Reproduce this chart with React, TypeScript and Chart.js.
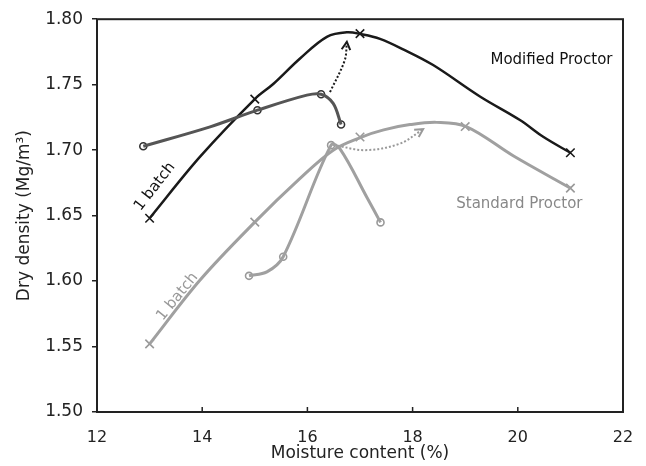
import { useEffect, useRef } from "react";
import { Chart, registerables } from "chart.js";
Chart.register(...registerables);

// Modified Proctor, 1 batch (markers)
const modX = [13.0, 15.0, 17.0, 21.0];
const modY = [1.648, 1.739, 1.789, 1.698];
// Modified Proctor, 1 batch (fitted curve)
const modCurveX = [13.0, 13.96, 15.0, 15.35, 15.86, 16.37, 16.75, 17.03, 17.38, 17.82, 18.39, 19.28, 20.04, 20.49, 21.0];
const modCurveY = [1.648, 1.695, 1.739, 1.7505, 1.770, 1.7865, 1.790, 1.7885, 1.785, 1.777, 1.765, 1.741, 1.723, 1.710, 1.698];

// Standard Proctor, 1 batch
const stdX = [13.0, 15.0, 17.0, 19.0, 21.0];
const stdY = [1.552, 1.645, 1.710, 1.718, 1.671];
const stdCurveX = [13.0, 13.96, 15.0, 15.86, 16.49, 17.03, 17.45, 17.95, 18.46, 19.02, 19.92, 21.0];
const stdCurveY = [1.552, 1.6008, 1.645, 1.6784, 1.700, 1.710, 1.7155, 1.7195, 1.7212, 1.718, 1.6955, 1.671];

// Modified Proctor, separate batches (circles)
const modBX = [12.88, 15.05, 16.26, 16.64];
const modBY = [1.703, 1.7305, 1.7427, 1.7196];
const modBCurveX = [12.88, 14.15, 15.05, 15.99, 16.26, 16.49, 16.64];
const modBCurveY = [1.703, 1.7178, 1.7305, 1.742, 1.7427, 1.7357, 1.7196];

// Standard Proctor, separate batches (circles)
const stdBX = [14.89, 15.54, 16.45, 17.39];
const stdBY = [1.604, 1.6186, 1.7038, 1.6448];
const stdBCurveX = [14.89, 15.23, 15.54, 16.45, 16.62, 17.13, 17.39];
const stdBCurveY = [1.604, 1.607, 1.6186, 1.7038, 1.701, 1.664, 1.6448];

// Dotted arrows
const modArrowX = [16.43, 16.71, 16.75];
const modArrowY = [1.7443, 1.7687, 1.7827];
const stdArrowX = [16.5, 17.1, 17.76, 18.2];
const stdArrowY = [1.704, 1.700, 1.705, 1.716];

const xTicks = [12, 14, 16, 18, 20, 22];

const FONT = "'DejaVu Sans', Verdana, sans-serif";
const BLACK = "#1a1a1a";
const DARK = "#555555";
const GRAY = "#a0a0a0";
const AXIS = "#222222";

const pts = (xs: number[], ys: number[]) => xs.map((x, i) => ({ x, y: ys[i] }));

const texts = [
  { text: "Modified Proctor", x: 20.64, y: 1.769, color: "#111111", rot: 0 },
  { text: "Standard Proctor", x: 20.03, y: 1.659, color: "#888888", rot: 0 },
  { text: "1 batch", x: 13.1, y: 1.672, color: "#111111", rot: -52 },
  { text: "1 batch", x: 13.53, y: 1.588, color: "#999999", rot: -51 },
];

const decorPlugin = {
  id: "decor",
  afterDatasetsDraw(chart: any) {
    const { ctx, chartArea, scales } = chart;
    const xs = scales.x;
    const ys = scales.y;
    ctx.save();
    ctx.strokeStyle = AXIS;
    ctx.lineWidth = 2;
    ctx.strokeRect(chartArea.left, chartArea.top, chartArea.right - chartArea.left, chartArea.bottom - chartArea.top);
    ctx.lineWidth = 1.5;
    xTicks.forEach((t) => {
      const px = xs.getPixelForValue(t);
      ctx.beginPath();
      ctx.moveTo(px, chartArea.bottom);
      ctx.lineTo(px, chartArea.bottom - 5);
      ctx.stroke();
    });
    ctx.font = `15px ${FONT}`;
    ctx.textAlign = "center";
    ctx.textBaseline = "middle";
    texts.forEach((t) => {
      const px = xs.getPixelForValue(t.x);
      const py = ys.getPixelForValue(t.y);
      ctx.save();
      ctx.translate(px, py);
      ctx.rotate((t.rot * Math.PI) / 180);
      ctx.fillStyle = t.color;
      ctx.fillText(t.text, 0, 0);
      ctx.restore();
    });
    chart.data.datasets.forEach((ds: any, i: number) => {
      if (!ds.arrow) return;
      const meta = chart.getDatasetMeta(i);
      const n = meta.data.length;
      const a = meta.data[n - 2];
      const b = meta.data[n - 1];
      const ang = Math.atan2(b.y - a.y, b.x - a.x);
      const L = 9;
      const spread = 0.5;
      ctx.strokeStyle = ds.borderColor;
      ctx.lineWidth = 2;
      ctx.setLineDash([]);
      ctx.beginPath();
      ctx.moveTo(b.x - L * Math.cos(ang - spread), b.y - L * Math.sin(ang - spread));
      ctx.lineTo(b.x, b.y);
      ctx.lineTo(b.x - L * Math.cos(ang + spread), b.y - L * Math.sin(ang + spread));
      ctx.stroke();
    });
    ctx.restore();
  },
};

export default function App() {
  const ref = useRef<HTMLCanvasElement>(null);
  useEffect(() => {
    document.body.style.margin = "0";
    const curve = (data: any, color: string, width: number) => ({
      type: "line",
      data,
      borderColor: color,
      borderWidth: width,
      pointRadius: 0,
      tension: 0.35,
      fill: false,
      showLine: true,
    });
    const markers = (data: any, color: string, style: string, r: number) => ({
      type: "scatter",
      data,
      borderColor: color,
      backgroundColor: style === "circle" ? "#ffffff" : color,
      pointStyle: style,
      pointRadius: r,
      pointBorderWidth: 1.6,
      showLine: false,
    });
    const chart = new Chart(ref.current as HTMLCanvasElement, {
      type: "scatter",
      data: {
        datasets: [
          curve(pts(stdCurveX, stdCurveY), GRAY, 3),
          curve(pts(stdBCurveX, stdBCurveY), GRAY, 3),
          {
            ...curve(pts(stdArrowX, stdArrowY), "#999999", 2),
            borderDash: [2, 2],
            arrow: true,
          },
          curve(pts(modBCurveX, modBCurveY), DARK, 3),
          curve(pts(modCurveX, modCurveY), BLACK, 2.5),
          {
            ...curve(pts(modArrowX, modArrowY), BLACK, 2),
            borderDash: [2, 2],
            arrow: true,
          },
          markers(pts(stdX, stdY), "#999999", "crossRot", 6),
          markers(pts(stdBX, stdBY), "#999999", "circle", 3.5),
          markers(pts(modX, modY), BLACK, "crossRot", 6),
          markers(pts(modBX, modBY), "#333333", "circle", 3.5),
        ] as any,
      },
      options: {
        responsive: false,
        animation: false,
        layout: { padding: { left: 0, right: 23, top: 19, bottom: 0 } },
        plugins: { legend: { display: false }, tooltip: { enabled: false } },
        scales: {
          x: {
            type: "linear",
            min: 12,
            max: 22,
            afterBuildTicks: (s: any) => {
              s.ticks = xTicks.map((v) => ({ value: v }));
            },
            afterFit: (s: any) => {
              s.height = 54;
            },
            ticks: { color: AXIS, font: { family: FONT, size: 16 }, padding: 8, maxRotation: 0 },
            grid: { display: false },
            border: { display: false },
            title: {
              display: true,
              text: "Moisture content (%)",
              color: AXIS,
              font: { family: FONT, size: 17 },
              padding: { top: 0, bottom: 2 },
            },
          },
          y: {
            type: "linear",
            min: 1.5,
            max: 1.8,
            ticks: {
              stepSize: 0.05,
              color: AXIS,
              font: { family: FONT, size: 17 },
              padding: 9,
              callback: (v: any) => Number(v).toFixed(2),
            },
            afterFit: (s: any) => {
              s.width = 97;
            },
            grid: { display: true, drawOnChartArea: false, drawTicks: true, tickLength: 5, color: AXIS, lineWidth: 1.5 },
            border: { display: false },
            title: {
              display: true,
              text: "Dry density (Mg/m\u00b3)",
              color: AXIS,
              font: { family: FONT, size: 17 },
              padding: { top: 14, bottom: 0 },
            },
          },
        },
      } as any,
      plugins: [decorPlugin],
    });
    return () => chart.destroy();
  }, []);
  return (
    <div style={{ width: 646, height: 466 }}>
      <canvas ref={ref} width={646} height={466} />
    </div>
  );
}
